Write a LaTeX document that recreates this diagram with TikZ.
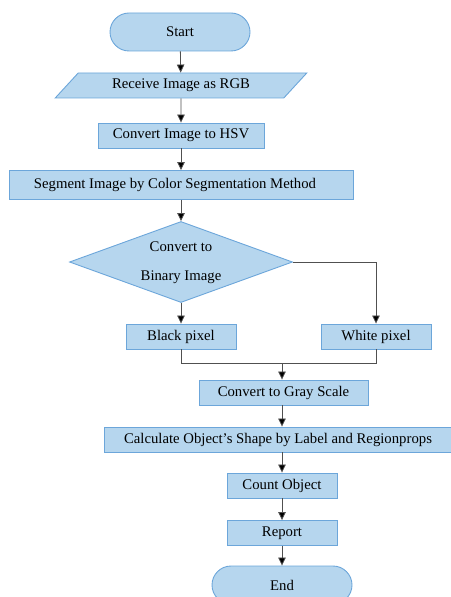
\documentclass[tikz,border=0pt]{standalone}
\usepackage{fontspec}
\setmainfont{Liberation Serif}
\usetikzlibrary{shapes.geometric,arrows.meta}
\definecolor{boxfill}{HTML}{B6D6EE}
\definecolor{boxline}{HTML}{6CA6DA}
\definecolor{wire}{HTML}{505050}
\tikzset{
  base/.style={draw=boxline, fill=boxfill, line width=0.9bp, inner sep=0pt,
    font=\fontsize{14.8}{18}\selectfont, text=black},
  procbox/.style={base, rectangle, minimum height=25bp},
  terminal/.style={base, rectangle, rounded corners=19bp, minimum width=140bp, minimum height=38bp},
  iobox/.style={base, trapezium, trapezium left angle=40, trapezium right angle=140,
    trapezium stretches=true, minimum width=252bp, minimum height=25bp},
  decision/.style={base, diamond, minimum width=223bp, minimum height=81bp, align=center},
  flow/.style={draw=wire, line width=0.8bp, -{Triangle[length=8bp,width=7.5bp,fill=black]}},
  link/.style={draw=wire, line width=0.8bp}
}
\begin{document}
\begin{tikzpicture}[x=1bp, y=-1bp]
\useasboundingbox (0,0) rectangle (451,597);
\begin{scope}
\clip (0,0) rectangle (451,597);
\node[terminal] (start) at (180,32) {Start};
\node[iobox] (rgb) at (181,85.5) {Receive Image as RGB};
\node[procbox, minimum width=166bp] (hsv) at (181,135.5) {Convert Image to HSV};
\node[procbox, minimum width=344bp, minimum height=29bp] (seg) at (181,185) {};
\node (segtxt) at (175,185) {\fontsize{14.8}{18}\selectfont Segment Image by Color Segmentation Method};
\node[decision] (bin) at (181,262) {};
\node (bintxt1) at (181,247) {\fontsize{14.8}{18}\selectfont Convert to};
\node (bintxt2) at (181,277) {\fontsize{14.8}{18}\selectfont Binary Image};
\node[procbox, minimum width=110bp] (black) at (181,336.5) {Black pixel};
\node[procbox, minimum width=110bp] (white) at (376,336.5) {White pixel};
\coordinate (join) at (282,363);
\node[procbox, minimum width=169bp] (gray) at (283.5,392.5) {Convert to Gray Scale};
\node[procbox, minimum width=347bp] (calc) at (278,439.5) {Calculate Object’s Shape by Label and Regionprops};
\node[procbox, minimum width=110bp] (count) at (282,485.5) {Count Object};
\node[procbox, minimum width=110bp] (report) at (282,533) {Report};
\node[terminal] (end) at (282,585) {End};

\draw[flow] (start) -- (rgb);
\draw[flow] (rgb) -- (hsv);
\draw[flow] (hsv) -- (seg);
\draw[flow] (seg) -- (bin);
\draw[flow] (bin) -- (black);
\draw[flow] (bin.east) -| (white.north);
\draw[link] (black.south) |- (join);
\draw[link] (white.south) |- (join);
\draw[flow] (join) -- (gray.north -| join);
\draw[flow] (gray.south -| join) -- (calc.north -| join);
\draw[flow] (calc.south -| join) -- (count);
\draw[flow] (count) -- (report);
\draw[flow] (report) -- (end);
\end{scope}
\end{tikzpicture}
\end{document}
